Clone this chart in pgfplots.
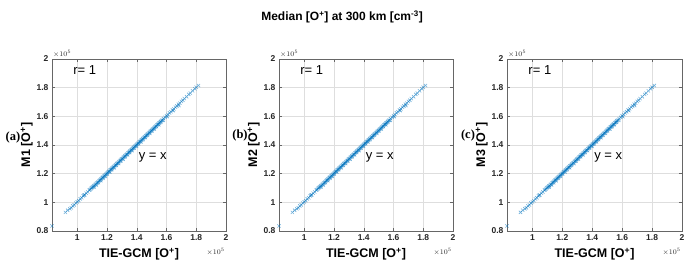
\documentclass[border=0pt]{standalone}
\usepackage{pgfplots}
\pgfplotsset{compat=1.18}
\usepackage{pgfplotstable}
\usepackage{fontspec}
\setmainfont{Liberation Sans}
\newfontfamily\tnr{Liberation Serif}
\definecolor{mblue}{rgb}{0,0.447,0.741}
\pgfplotstableread{
x y
0.830 0.835
0.920 0.930
0.935 0.945
0.950 0.955
0.960 0.962
0.970 0.975
0.980 0.982
0.990 0.995
1.000 1.003
1.010 1.012
1.020 1.024
1.030 1.032
1.040 1.045
1.045 1.050
1.050 1.052
1.060 1.064
1.070 1.072
1.080 1.085
1.085 1.088
1.090 1.092
1.095 1.100
1.100 1.103
1.105 1.108
1.110 1.114
1.115 1.117
1.120 1.124
1.125 1.127
1.130 1.134
1.135 1.137
1.140 1.143
1.145 1.148
1.150 1.154
1.155 1.157
1.160 1.163
1.165 1.168
1.170 1.174
1.175 1.177
1.180 1.183
1.185 1.188
1.190 1.194
1.195 1.197
1.200 1.203
1.205 1.209
1.210 1.213
1.215 1.218
1.220 1.224
1.225 1.227
1.230 1.233
1.235 1.239
1.240 1.243
1.245 1.247
1.250 1.254
1.255 1.257
1.260 1.263
1.265 1.269
1.270 1.273
1.275 1.277
1.280 1.284
1.285 1.287
1.290 1.293
1.295 1.299
1.300 1.303
1.305 1.307
1.310 1.314
1.315 1.317
1.320 1.323
1.325 1.329
1.330 1.333
1.335 1.337
1.340 1.344
1.345 1.347
1.350 1.353
1.355 1.359
1.360 1.363
1.365 1.367
1.370 1.374
1.375 1.377
1.380 1.383
1.385 1.389
1.390 1.393
1.395 1.397
1.400 1.404
1.405 1.407
1.410 1.413
1.415 1.419
1.420 1.423
1.425 1.427
1.430 1.434
1.435 1.437
1.440 1.443
1.445 1.449
1.450 1.453
1.455 1.457
1.460 1.464
1.465 1.467
1.470 1.473
1.475 1.479
1.480 1.483
1.485 1.487
1.490 1.494
1.495 1.497
1.500 1.503
1.505 1.509
1.510 1.513
1.515 1.517
1.520 1.524
1.525 1.527
1.530 1.533
1.535 1.539
1.540 1.543
1.545 1.547
1.550 1.554
1.555 1.557
1.560 1.563
1.565 1.569
1.570 1.573
1.580 1.584
1.590 1.593
1.600 1.604
1.610 1.613
1.620 1.624
1.630 1.632
1.640 1.644
1.650 1.652
1.660 1.664
1.670 1.672
1.680 1.685
1.690 1.692
1.700 1.704
1.710 1.712
1.720 1.724
1.735 1.737
1.750 1.753
1.760 1.762
1.775 1.778
1.790 1.792
1.800 1.803
1.815 1.815
1.112 1.106
1.128 1.120
1.142 1.137
1.158 1.151
1.173 1.168
1.188 1.181
1.202 1.197
1.218 1.211
1.232 1.228
1.248 1.241
1.262 1.258
1.278 1.271
1.292 1.288
1.308 1.301
1.322 1.318
1.338 1.331
1.352 1.348
1.368 1.361
1.382 1.378
1.398 1.391
1.412 1.408
1.428 1.421
1.442 1.438
1.458 1.451
1.472 1.468
1.488 1.481
1.502 1.498
1.518 1.511
1.532 1.528
1.548 1.541
1.562 1.558
1.578 1.572
1.605 1.598
1.645 1.640
1.683 1.676
}\datatable
\pgfplotsset{
  panel/.style={
    scale only axis, anchor=south west,
    width=174pt, height=172pt,
    xmin=0.83, xmax=2, ymin=0.8, ymax=2,
    xtick={1,1.2,1.4,1.6,1.8,2},
    xticklabels={1,1.2,1.4,1.6,1.8,2},
    ytick={0.8,1,1.2,1.4,1.6,1.8,2},
    yticklabels={0.8,1,1.2,1.4,1.6,1.8,2},
    scaled ticks=false,
    /pgf/number format/assume math mode=true,
    tick label style={font=\bfseries\fontsize{8.5}{9}\selectfont, text=black!85},
    tick align=inside, tick style={black!60, line width=0.4pt},
    major tick length=3pt,
    grid=major, major grid style={black!13, line width=0.4pt},
    axis line style={black!60, line width=0.5pt},
    label style={font=\bfseries\fontsize{12.5}{14}\selectfont},
    xlabel style={yshift=-1pt},
    ylabel style={yshift=-3pt},
    clip=false,
  },
  sc/.style={only marks, mark=x, mark size=2.3pt, mblue, mark options={line width=0.6pt, opacity=0.55}},
}
\tikzset{
  ann/.style={anchor=west, font=\fontsize{13}{15}\selectfont},
  mul/.style={font=\fontsize{7.5}{8}\selectfont, inner sep=1pt, text=black!85},
  lab/.style={font=\tnr\bfseries\fontsize{12.5}{14}\selectfont},
}
\begin{document}
\begin{tikzpicture}
\useasboundingbox (0pt,0pt) rectangle (685pt,269pt);
\node[font=\bfseries\fontsize{12}{14}\selectfont] at (342pt,252pt) {Median [O\textsuperscript{+}] at 300 km [cm\textsuperscript{-3}]};
% panel a
\begin{axis}[panel, at={(52pt,38pt)}, xlabel={TIE-GCM [O\textsuperscript{+}]}, ylabel={M1 [O\textsuperscript{+}]}]
\addplot[sc] table[x=x,y=y] {\datatable};
\node[ann] at (axis cs:0.95,1.92) {r= 1};
\node[ann] at (axis cs:1.39,1.31) {y = x};
\node[mul, anchor=south west] at (rel axis cs:0,1) {$\times10^{5}$};
\node[mul, anchor=north east] at ([yshift=-16pt]rel axis cs:1,0) {$\times10^{5}$};
\end{axis}
\node[lab] at (13pt,132pt) {(a)};
% panel b
\begin{axis}[panel, at={(279pt,38pt)}, xlabel={TIE-GCM [O\textsuperscript{+}]}, ylabel={M2 [O\textsuperscript{+}]}]
\addplot[sc] table[x=x,y=y] {\datatable};
\node[ann] at (axis cs:0.95,1.92) {r= 1};
\node[ann] at (axis cs:1.39,1.31) {y = x};
\node[mul, anchor=south west] at (rel axis cs:0,1) {$\times10^{5}$};
\node[mul, anchor=north east] at ([yshift=-16pt]rel axis cs:1,0) {$\times10^{5}$};
\end{axis}
\node[lab] at (240pt,134pt) {(b)};
% panel c
\begin{axis}[panel, at={(507pt,38pt)}, width=175pt, xlabel={TIE-GCM [O\textsuperscript{+}]}, ylabel={M3 [O\textsuperscript{+}]}]
\addplot[sc] table[x=x,y=y] {\datatable};
\node[ann] at (axis cs:0.95,1.92) {r= 1};
\node[ann] at (axis cs:1.39,1.31) {y = x};
\node[mul, anchor=south west] at (rel axis cs:0,1) {$\times10^{5}$};
\node[mul, anchor=north east] at ([yshift=-16pt]rel axis cs:1,0) {$\times10^{5}$};
\end{axis}
\node[lab] at (468pt,134pt) {(c)};
\end{tikzpicture}
\end{document}
